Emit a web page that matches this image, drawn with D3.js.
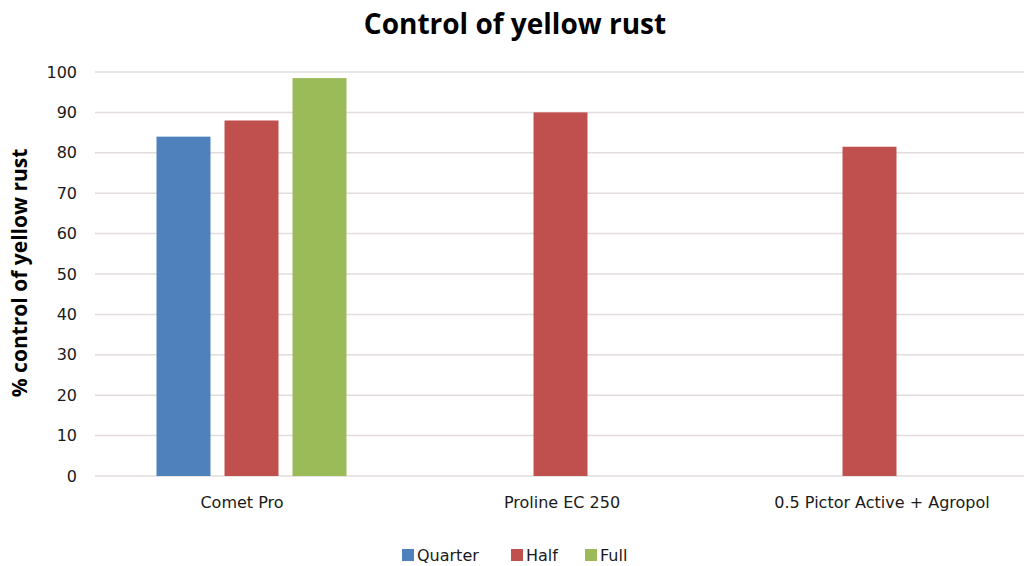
<!DOCTYPE html>
<html><head><meta charset="utf-8">
<script src="https://cdn.jsdelivr.net/npm/d3@7"></script>
<style>body{margin:0;background:#fff;}svg{display:block;font-family:"DejaVu Sans",sans-serif;}</style>
</head><body><svg id="c" width="1024" height="566"></svg>
<script>
const categories = ["Comet Pro", "Proline EC 250", "0.5 Pictor Active + Agropol"];
const seriesNames = ["Quarter", "Half", "Full"];
const quarterValues = [84, null, null];
const halfValues = [88, 90, 81.5];
const fullValues = [98.5, null, null];
const yTicks = [0,10,20,30,40,50,60,70,80,90,100];
const colors = ["#4F81BD", "#C0504D", "#9BBB59"];
const title = "Control of yellow rust";
const yTitle = "% control of yellow rust";

const seriesValues = [quarterValues, halfValues, fullValues];
const svg = d3.select("#c");
const W = 1024, H = 566;
const x0 = d3.scaleBand().domain(categories).range([97, 1024]).padding(0);
const x1 = d3.scaleBand().domain(seriesNames).range([0, x0.bandwidth()]).paddingInner(0.206).paddingOuter(0.875);
const xLabel = d3.scaleBand().domain(categories).range([82, 1042]).padding(0);
const y = d3.scaleLinear().domain([0, 100]).range([476, 72]);
const color = d3.scaleOrdinal().domain(seriesNames).range(colors);

// gridlines
svg.append("g").selectAll("line").data(yTicks).join("line")
  .attr("x1", 95).attr("x2", W).attr("y1", d => y(d)).attr("y2", d => y(d))
  .attr("stroke", "#e2dcdc").attr("stroke-width", 1.5);

// y axis labels
const yAxis = d3.axisLeft(y).tickValues(yTicks).tickSize(0).tickPadding(0);
const ga = svg.append("g").attr("transform", "translate(77,0)").call(yAxis);
ga.select(".domain").remove();
ga.selectAll("text").attr("font-size", 16).attr("fill", "#1a1a1a").style("font-family", "'DejaVu Sans', sans-serif");

// bars
const data = [];
categories.forEach((c, i) => seriesNames.forEach((s, j) => {
  const v = seriesValues[j][i];
  if (v != null) data.push({c, s, v});
}));
svg.append("g").selectAll("rect").data(data).join("rect")
  .attr("x", d => x0(d.c) + x1(d.s)).attr("width", x1.bandwidth())
  .attr("y", d => y(d.v)).attr("height", d => y(0) - y(d.v))
  .attr("fill", d => color(d.s));

// x axis labels
const xAxis = d3.axisBottom(xLabel).tickSize(0).tickPadding(0);
const gx = svg.append("g").attr("transform", "translate(0,497)").call(xAxis);
gx.select(".domain").remove();
gx.selectAll("text").attr("font-size", 16).attr("fill", "#1a1a1a").style("font-family", "'DejaVu Sans', sans-serif");

// title
svg.append("text").attr("x", 515).attr("y", 34).attr("text-anchor", "middle")
  .style("font-family", "'Open Sans', sans-serif")
  .attr("font-size", 28).attr("font-weight", "bold").attr("fill", "#000").text(title);

// y title
svg.append("text").attr("transform", "translate(27,273) rotate(-90)").attr("text-anchor", "middle")
  .style("font-family", "'Open Sans', sans-serif")
  .attr("font-size", 21).attr("font-weight", "bold").attr("fill", "#000").text(yTitle);

// legend
const legX = [402, 511, 585];
const lg = svg.append("g").selectAll("g").data(seriesNames).join("g")
  .attr("transform", (d, i) => `translate(${legX[i]},549)`);
lg.append("rect").attr("width", 12).attr("height", 12).attr("fill", d => color(d));
lg.append("text").attr("x", 15).attr("y", 12).attr("font-size", 16).attr("fill", "#1a1a1a").text(d => d);
</script></body></html>
